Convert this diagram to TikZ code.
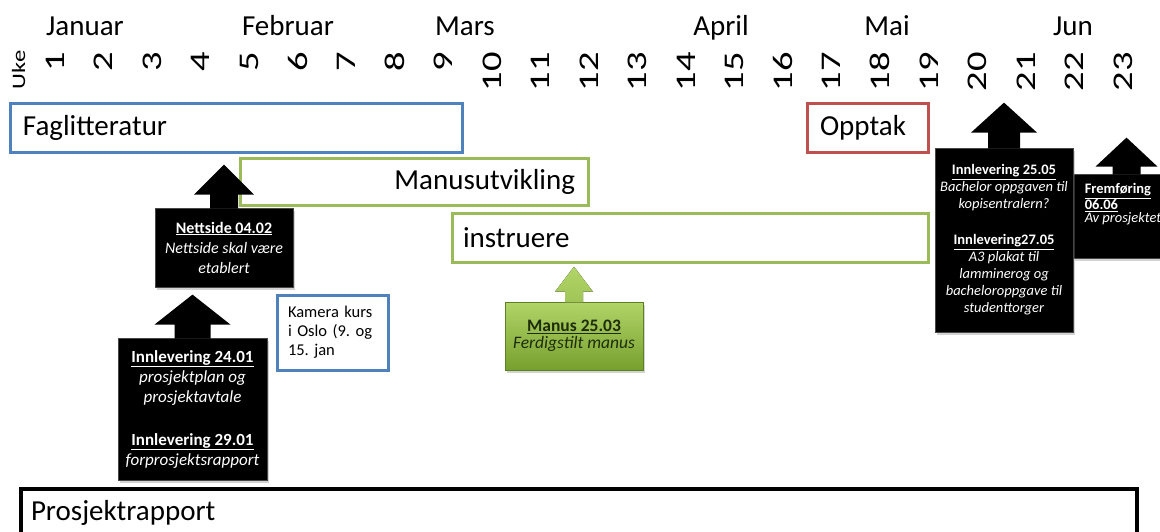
\documentclass[tikz,border=0pt]{standalone}
\usepackage{fontspec}
\setmainfont{Carlito}
\usetikzlibrary{calc,shadows}
\definecolor{oblue}{HTML}{4F81BD}
\definecolor{ogreen}{HTML}{9BBB59}
\definecolor{ored}{HTML}{C0504D}
\definecolor{mgreenlt}{RGB}{178,212,104}
\definecolor{mgreendk}{RGB}{118,160,46}
\definecolor{mtext}{RGB}{30,45,10}
\newcommand{\fs}[2]{\fontsize{#1}{#2}\selectfont}
\newcommand{\vtxt}[2]{\rotatebox[origin=c]{90}{\scalebox{#1}[1]{#2}}}
% block arrow on top of a node: node, shaft half width, head half width, shaft length, head length, options
\newcommand{\blockarr}[6]{%
  \fill[#6] ($(#1.north)+(-#2,1)$) -- ($(#1.north)+(-#2,-#4)$) -- ($(#1.north)+(-#3,-#4)$)
    -- ($(#1.north)+(0,{-#4-#5})$) -- ($(#1.north)+(#3,-#4)$) -- ($(#1.north)+(#2,-#4)$)
    -- ($(#1.north)+(#2,1)$) -- cycle;}
\frenchspacing
\begin{document}
\begin{tikzpicture}[x=1pt,y=-1pt,
  month/.style={anchor=base,inner sep=0pt,font=\fs{29}{35}},
  wk/.style={anchor=north,inner sep=0pt,font=\fs{28.5}{34}},
  bar/.style={draw,line width=3pt,rectangle,inner sep=0pt,minimum height=49pt,font=\fs{29}{35}},
  callout/.style={fill=black,draw=black!72,line width=0.8pt,text=white,align=center,inner sep=0pt,
    drop shadow={opacity=0.35,shadow xshift=2pt,shadow yshift=-3pt}},
]
\useasboundingbox (0,0) rectangle (1160,531);
\clip (0,0) rectangle (1160,531);

% months
\node[month] (jan) at (85,35) {Januar};
\node[month] (feb) at (288,35) {Februar};
\node[month] (mar) at (465,35) {Mars};
\node[month] (apr) at (721,35) {April};
\node[month] (mai) at (887,35) {Mai};
\node[month] (jun) at (1073,35) {Jun};

% weeks
\node[inner sep=0pt,font=\fs{19}{23}] (uke) at (18.5,70) {\vtxt{1.3}{Uke}};
\node[wk] (w1) at (55.00,52) {\vtxt{1.35}{1}};
\node[wk] (w2) at (103.55,52) {\vtxt{1.35}{2}};
\node[wk] (w3) at (152.10,52) {\vtxt{1.35}{3}};
\node[wk] (w4) at (200.65,52) {\vtxt{1.35}{4}};
\node[wk] (w5) at (249.20,52) {\vtxt{1.35}{5}};
\node[wk] (w6) at (297.75,52) {\vtxt{1.35}{6}};
\node[wk] (w7) at (346.30,52) {\vtxt{1.35}{7}};
\node[wk] (w8) at (394.85,52) {\vtxt{1.35}{8}};
\node[wk] (w9) at (443.40,52) {\vtxt{1.35}{9}};
\node[wk] (w10) at (491.95,52) {\vtxt{1.35}{10}};
\node[wk] (w11) at (540.50,52) {\vtxt{1.35}{11}};
\node[wk] (w12) at (589.05,52) {\vtxt{1.35}{12}};
\node[wk] (w13) at (637.60,52) {\vtxt{1.35}{13}};
\node[wk] (w14) at (686.15,52) {\vtxt{1.35}{14}};
\node[wk] (w15) at (734.70,52) {\vtxt{1.35}{15}};
\node[wk] (w16) at (783.25,52) {\vtxt{1.35}{16}};
\node[wk] (w17) at (831.80,52) {\vtxt{1.35}{17}};
\node[wk] (w18) at (880.35,52) {\vtxt{1.35}{18}};
\node[wk] (w19) at (928.90,52) {\vtxt{1.35}{19}};
\node[wk] (w20) at (977.45,52) {\vtxt{1.35}{20}};
\node[wk] (w21) at (1026.00,52) {\vtxt{1.35}{21}};
\node[wk] (w22) at (1074.55,52) {\vtxt{1.35}{22}};
\node[wk] (w23) at (1123.10,52) {\vtxt{1.35}{23}};

% bars
\node[bar,draw=oblue,text width=426pt,inner xsep=13pt,align=left] (fag) at (236,127.5) {Faglitteratur};
\node[bar,draw=ored,text width=95pt,inner xsep=13pt,align=left] (opp) at (867.5,127.5) {Opptak};
\node[bar,draw=ogreen,minimum height=47pt,text width=322pt,inner xsep=13pt,align=right] (mu) at (414,181.5) {Manusutvikling};
\node[bar,draw=ogreen,text width=454pt,inner xsep=11pt,align=left] (ins) at (690,237.5) {instruere};
\node[bar,draw=black,line width=4pt,minimum height=48pt,text width=1096pt,inner xsep=10pt,align=left] (pr) at (579,513) {Prosjektrapport};

% Kamera kurs
\node[draw=oblue,line width=3pt,text width=89pt,inner xsep=11pt,inner ysep=0pt,minimum height=75pt,align=left,font=\fs{16.5}{19}] (kam) at (332.5,332.5) {Kamera kurs\\ i Oslo (9. og\\ 15. jan};

% callouts
\node[callout,minimum width=138pt,minimum height=79pt,font=\fs{16}{20}] (nett) at (224,247.5)
  {\textbf{\underline{Nettside 04.02}}\\ \textit{Nettside skal være}\\ \textit{etablert}};
\blockarr{nett}{14}{30}{13}{30}{black}

\node[callout,minimum width=149pt,minimum height=142pt,font=\fs{17}{20}] (inn1) at (192.5,409)
  {\textbf{\underline{Innlevering 24.01}}\\ \textit{prosjektplan og}\\ \textit{prosjektavtale}\\[23pt]
   \textbf{\underline{Innlevering 29.01}}\\ \textit{forprosjektsrapport}};
\blockarr{inn1}{18}{38}{13}{30}{black}

\node[callout,minimum width=138pt,minimum height=68pt,font=\fs{17.5}{17},text=mtext,
  top color=mgreenlt,bottom color=mgreendk,draw=mgreendk!80!black,line width=0.6pt] (manus) at (574,336)
  {\textbf{\underline{Manus 25.03}}\\ \textit{Ferdigstilt manus}};
\blockarr{manus}{9}{19}{10}{25}{top color=mgreenlt,bottom color=mgreenlt!70!mgreendk}

\node[callout,minimum width=107pt,minimum height=84pt] (frem) at (1126.5,216) {};
\node[anchor=north west,inner sep=0pt,align=left,text=white,font=\fs{14.5}{13.5}] (fremtxt) at ($(frem.north west)+(12,10)$)
  {\textbf{\underline{Fremføring}}\\ \textbf{\underline{06.06}}\\ \textit{Av prosjektet}};
\blockarr{frem}{14}{31}{7}{29}{black}

\node[callout,minimum width=138pt,minimum height=184pt,font=\fs{14.5}{17}] (inn2) at (1004,240)
  {\textbf{\underline{Innlevering 25.05}}\\ \textit{Bachelor oppgaven til}\\ \textit{kopisentralern?}\\[19pt]
   \textbf{\underline{Innlevering27.05}}\\ \textit{A3 plakat til}\\ \textit{lamminerog og}\\ \textit{bacheloroppgave til}\\ \textit{studenttorger}};
\blockarr{inn2}{16}{33}{15}{30}{black}
\end{tikzpicture}
\end{document}
